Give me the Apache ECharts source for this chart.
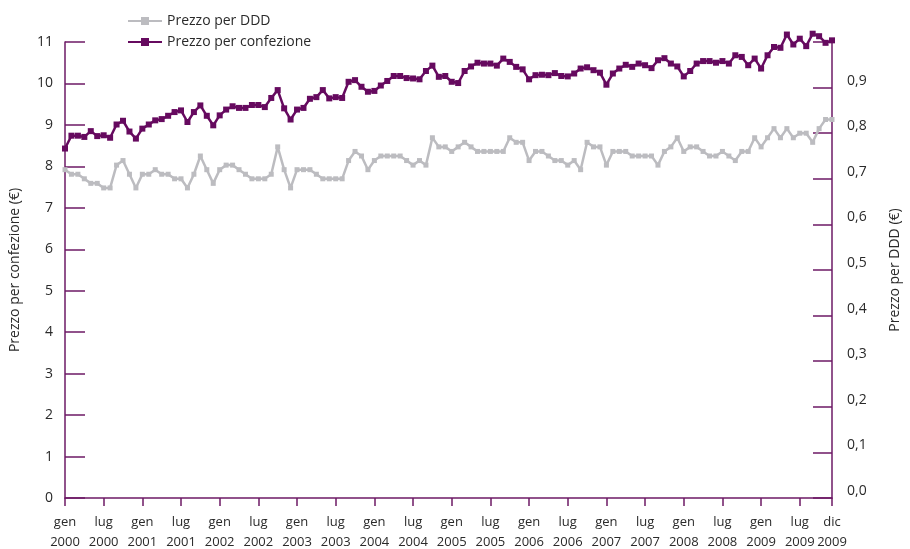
<!DOCTYPE html>
<html>
<head>
<meta charset="utf-8">
<script src="https://cdn.jsdelivr.net/npm/echarts@6/dist/echarts.min.js"></script>
<style>
  html, body { margin: 0; padding: 0; background: #fff; }
  #chart { width: 910px; height: 549px; }
</style>
</head>
<body>
<div id="chart"></div>
<script>
// Mesi e anni (gen 2000 - dic 2009)
const months = ['gen', 'feb', 'mar', 'apr', 'mag', 'giu', 'lug', 'ago', 'set', 'ott', 'nov', 'dic'];
const years = ['2000', '2001', '2002', '2003', '2004', '2005', '2006', '2007', '2008', '2009'];

// Prezzo per confezione (asse sinistro, €)
const prezzoConfezione = [
  8.43, 8.74, 8.74, 8.71, 8.85, 8.73, 8.75, 8.69, 9.01, 9.10,
  8.84, 8.67, 8.91, 9.01, 9.11, 9.14, 9.22, 9.31, 9.35, 9.07,
  9.31, 9.47, 9.22, 8.99, 9.23, 9.37, 9.45, 9.41, 9.41, 9.48,
  9.48, 9.43, 9.65, 9.84, 9.40, 9.13, 9.37, 9.41, 9.63, 9.67,
  9.84, 9.64, 9.67, 9.65, 10.04, 10.08, 9.92, 9.80, 9.82, 9.95,
  10.06, 10.18, 10.18, 10.13, 10.12, 10.10, 10.30, 10.43, 10.16, 10.18,
  10.04, 10.01, 10.30, 10.41, 10.50, 10.48, 10.48, 10.43, 10.60, 10.52,
  10.40, 10.34, 10.10, 10.20, 10.21, 10.20, 10.25, 10.18, 10.17, 10.24,
  10.36, 10.39, 10.32, 10.26, 9.97, 10.24, 10.36, 10.45, 10.40, 10.48,
  10.44, 10.37, 10.56, 10.61, 10.48, 10.41, 10.17, 10.30, 10.48, 10.54,
  10.54, 10.50, 10.54, 10.48, 10.68, 10.64, 10.44, 10.60, 10.36, 10.68,
  10.88, 10.86, 11.18, 10.94, 11.08, 10.90, 11.20, 11.14, 10.98, 11.04
];

// Prezzo per DDD (asse destro, €)
const prezzoDDD = [
  0.72, 0.71, 0.71, 0.70, 0.69, 0.69, 0.68, 0.68, 0.73, 0.74,
  0.71, 0.68, 0.71, 0.71, 0.72, 0.71, 0.71, 0.70, 0.70, 0.68,
  0.71, 0.75, 0.72, 0.69, 0.72, 0.73, 0.73, 0.72, 0.71, 0.70,
  0.70, 0.70, 0.71, 0.77, 0.72, 0.68, 0.72, 0.72, 0.72, 0.71,
  0.70, 0.70, 0.70, 0.70, 0.74, 0.76, 0.75, 0.72, 0.74, 0.75,
  0.75, 0.75, 0.75, 0.74, 0.73, 0.74, 0.73, 0.79, 0.77, 0.77,
  0.76, 0.77, 0.78, 0.77, 0.76, 0.76, 0.76, 0.76, 0.76, 0.79,
  0.78, 0.78, 0.74, 0.76, 0.76, 0.75, 0.74, 0.74, 0.73, 0.74,
  0.72, 0.78, 0.77, 0.77, 0.73, 0.76, 0.76, 0.76, 0.75, 0.75,
  0.75, 0.75, 0.73, 0.76, 0.77, 0.79, 0.76, 0.77, 0.77, 0.76,
  0.75, 0.75, 0.76, 0.75, 0.74, 0.76, 0.76, 0.79, 0.77, 0.79,
  0.81, 0.79, 0.81, 0.79, 0.80, 0.80, 0.78, 0.81, 0.83, 0.83
];

const categories = [];
years.forEach(y => months.forEach(m => categories.push(m + '\n' + y)));

const purple = '#660a5f';
const grey = '#bcbcc0';
const axisColor = '#6d1a66';
const textColor = '#2a2a2a';
const font = 'Open Sans';

// etichette ogni 6 mesi + l'ultimo mese
const showTick = (i) => i % 6 === 0 || i === categories.length - 1;

const chart = echarts.init(document.getElementById('chart'));
chart.setOption({
  animation: false,
  textStyle: { fontFamily: font },
  legend: {
    orient: 'vertical',
    left: 122,
    top: 9,
    itemGap: 7,
    itemWidth: 34,
    itemHeight: 10,
    textStyle: { fontSize: 14, color: textColor, fontFamily: font },
    data: ['Prezzo per DDD', 'Prezzo per confezione']
  },
  grid: { left: 65, right: 78, top: 42, bottom: 51, outerBoundsMode: 'none' },
  xAxis: {
    type: 'category',
    boundaryGap: false,
    data: categories,
    axisLine: { lineStyle: { color: axisColor, width: 1.5 } },
    axisTick: { interval: showTick, length: 8, lineStyle: { color: axisColor, width: 1.5 } },
    axisLabel: {
      interval: showTick,
      color: textColor,
      fontSize: 13,
      lineHeight: 20,
      margin: 14
    }
  },
  yAxis: [
    {
      type: 'value',
      min: 0,
      max: 11,
      interval: 1,
      name: 'Prezzo per confezione (€)',
      nameLocation: 'middle',
      nameGap: 43,
      nameTextStyle: { color: textColor, fontSize: 14 },
      axisLine: { show: true, lineStyle: { color: axisColor, width: 1.5 } },
      axisTick: { show: true, inside: true, length: 20, lineStyle: { color: axisColor, width: 1.5 } },
      axisLabel: { color: textColor, fontSize: 14, margin: 12 },
      splitLine: { show: false }
    },
    {
      type: 'value',
      min: 0,
      max: 1,
      interval: 0.1,
      position: 'right',
      name: 'Prezzo per DDD (€)',
      nameLocation: 'middle',
      nameGap: 56,
      nameRotate: 90,
      nameTextStyle: { color: textColor, fontSize: 14 },
      axisLine: { show: true, lineStyle: { color: axisColor, width: 1.5 } },
      axisTick: { show: true, inside: true, length: 19, lineStyle: { color: axisColor, width: 1.5 } },
      axisLabel: {
        color: textColor,
        fontSize: 14,
        margin: 15,
        verticalAlign: 'bottom',
        formatter: v => v > 0.95 ? '' : v.toFixed(1).replace('.', ',')
      },
      splitLine: { show: false }
    }
  ],
  series: [
    {
      name: 'Prezzo per DDD',
      type: 'line',
      yAxisIndex: 1,
      data: prezzoDDD,
      clip: false,
      symbol: 'rect',
      symbolSize: 5,
      showAllSymbol: true,
      color: grey,
      lineStyle: { width: 2.5, color: grey },
      itemStyle: { color: grey }
    },
    {
      name: 'Prezzo per confezione',
      type: 'line',
      yAxisIndex: 0,
      data: prezzoConfezione,
      clip: false,
      symbol: 'rect',
      symbolSize: 6,
      showAllSymbol: true,
      color: purple,
      lineStyle: { width: 2.5, color: purple },
      itemStyle: { color: purple }
    }
  ]
});
</script>
</body>
</html>
